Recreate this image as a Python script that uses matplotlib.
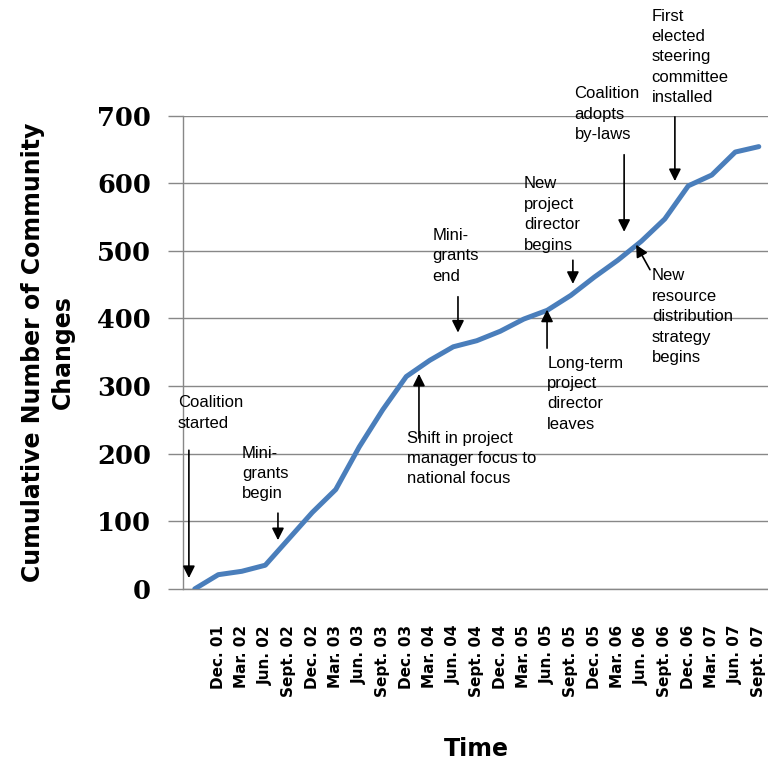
import matplotlib.pyplot as plt

# quarterly cumulative counts (first point is the coalition start, unlabeled)
periods = ["", "Dec. 01", "Mar. 02", "Jun. 02", "Sept. 02", "Dec. 02", "Mar. 03",
           "Jun. 03", "Sept. 03", "Dec. 03", "Mar. 04", "Jun. 04", "Sept. 04",
           "Dec. 04", "Mar. 05", "Jun. 05", "Sept. 05", "Dec. 05", "Mar. 06",
           "Jun. 06", "Sept. 06", "Dec. 06", "Mar. 07", "Jun. 07", "Sept. 07"]
changes = [0, 21, 26, 35, 74, 113, 147, 210, 265, 314, 338, 358, 367,
           381, 399, 412, 434, 461, 486, 514, 547, 596, 612, 646, 654]

# milestone notes: text, text anchor (x, y), arrow tail, arrow tip
notes = [
    ("Coalition\nstarted", (-0.72, 286), (-0.25, 205), (-0.25, 16)),
    ("Mini-\ngrants\nbegin", (2.0, 212), (3.54, 112), (3.54, 72)),
    ("Shift in project\nmanager focus to\nnational focus", (9.05, 234), (9.54, 223), (9.54, 318)),
    ("Mini-\ngrants\nend", (10.12, 534), (11.2, 432), (11.2, 379)),
    ("Long-term\nproject\ndirector\nleaves", (15.0, 345), (14.99, 356), (14.99, 413)),
    ("New\nproject\ndirector\nbegins", (14.0, 610), (16.09, 486), (16.09, 451)),
    ("Coalition\nadopts\nby-laws", (16.16, 743), (18.27, 642), (18.27, 528)),
    ("First\nelected\nsteering\ncommittee\ninstalled", (19.43, 858), (20.43, 698), (20.43, 603)),
    ("New\nresource\ndistribution\nstrategy\nbegins", (19.45, 474), (19.37, 472), (18.78, 509)),
]

fig = plt.figure(figsize=(7.68, 7.63), dpi=100)
ax = fig.add_axes([0.2383, 0.2282, 0.765, 0.6204])

x = list(range(len(periods)))
ax.plot(x, changes, color="#4A7EBB", linewidth=3.6, solid_capstyle="round",
        solid_joinstyle="round", zorder=3)

ax.set_xlim(-0.5, len(periods) - 0.5)
ax.set_ylim(0, 700)
ax.set_yticks(range(0, 701, 100))
ax.set_xticks(x)
ax.set_xticklabels(periods, rotation=90, fontsize=11, fontweight="bold",
                   family="DejaVu Sans")
ax.tick_params(axis="x", length=0, pad=26)
ax.tick_params(axis="y", length=11, color="#888888", width=1, pad=12)
for lab in ax.get_yticklabels():
    lab.set_fontsize(18.5)
    lab.set_fontweight("bold")
    lab.set_family("DejaVu Serif")

ax.grid(axis="y", color="#888888", linewidth=1)
ax.set_axisbelow(True)
for side in ["top", "right"]:
    ax.spines[side].set_visible(False)
for side in ["left", "bottom"]:
    ax.spines[side].set_color("#888888")
    ax.spines[side].set_linewidth(1)

ax.set_ylabel("Cumulative Number of Community\nChanges", fontsize=17,
              fontweight="bold", labelpad=16, linespacing=1.3)
ax.set_xlabel("Time", fontsize=17, fontweight="bold", labelpad=29)

for text, pos, tail, tip in notes:
    ax.text(pos[0], pos[1], text, fontsize=12, family="Liberation Sans",
            ha="left", va="top", linespacing=1.45, clip_on=False)
    ax.annotate("", xy=tip, xytext=tail, annotation_clip=False,
                arrowprops=dict(arrowstyle="-|>", color="black", lw=1.2,
                                mutation_scale=18, shrinkA=0, shrinkB=0))

fig.savefig("out.png", dpi=100)
